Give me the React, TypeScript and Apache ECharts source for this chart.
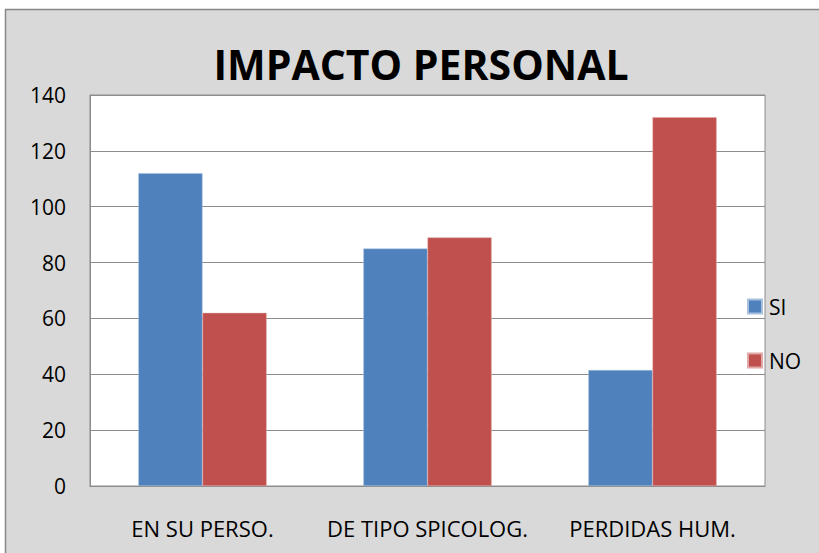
import React, { useEffect, useRef } from "react";
import * as echarts from "echarts";

const categories = ["EN SU PERSO.", "DE TIPO SPICOLOG.", "PERDIDAS HUM."];
const siValues = [112, 85, 41.5];
const noValues = [62, 89, 132];
const seriesNames = ["SI", "NO"];
const titleText = "IMPACTO PERSONAL";

export default function App() {
  const ref = useRef<HTMLDivElement>(null);
  useEffect(() => {
    if (!ref.current) return;
    const chart = echarts.init(ref.current, undefined, { renderer: "svg" });
    const font = "'Open Sans', sans-serif";
    chart.setOption({
      animation: false,
      backgroundColor: "#ffffff",
      graphic: [
        {
          type: "rect",
          z: -10,
          shape: { x: 5.5, y: 9.5, width: 830, height: 560 },
          style: { fill: "#D9D9D9", stroke: "#878787", lineWidth: 1.5 },
        },
      ],
      title: {
        text: titleText,
        left: 416,
        textAlign: "center",
        top: 38,
        textStyle: { fontFamily: font, fontWeight: "bold", fontSize: 41, color: "#000" },
      },
      legend: {
        orient: "vertical",
        left: 747,
        top: 296,
        padding: 0,
        itemWidth: 14,
        itemHeight: 14,
        itemGap: 33,
        icon: "rect",
        textStyle: { fontFamily: font, fontSize: 21, lineHeight: 14, color: "#000", padding: [0, 0, 0, 2] },
        data: seriesNames,
      },
      grid: {
        left: 90,
        right: 54,
        top: 95,
        bottom: 67,
        show: true,
        backgroundColor: "#ffffff",
        borderColor: "#8c8c8c",
        borderWidth: 1,
      },
      xAxis: {
        type: "category",
        data: categories,
        axisLine: { lineStyle: { color: "#8c8c8c", width: 1 } },
        axisTick: { show: false },
        axisLabel: { fontFamily: font, fontSize: 22, color: "#000", margin: 31, interval: 0 },
      },
      yAxis: {
        type: "value",
        min: 0,
        max: 140,
        interval: 20,
        axisLine: { show: true, lineStyle: { color: "#8c8c8c" } },
        axisTick: { show: false },
        splitLine: { lineStyle: { color: "#8c8c8c", width: 1 } },
        axisLabel: { fontFamily: font, fontSize: 21, color: "#000", margin: 24 },
      },
      series: [
        {
          name: seriesNames[0],
          type: "bar",
          data: siValues,
          barGap: "0%",
          barCategoryGap: "43%",
          itemStyle: { color: "#4F81BD", borderColor: "#a9c0dd", borderWidth: 0.5 },
        },
        {
          name: seriesNames[1],
          type: "bar",
          data: noValues,
          barGap: "0%",
          barCategoryGap: "43%",
          itemStyle: { color: "#C0504D", borderColor: "#e0a8a6", borderWidth: 0.5 },
        },
      ],
    });
    return () => chart.dispose();
  }, []);
  return (
    <div
      ref={ref}
      style={{ position: "fixed", left: 0, top: 0, width: 819, height: 553 }}
    />
  );
}
